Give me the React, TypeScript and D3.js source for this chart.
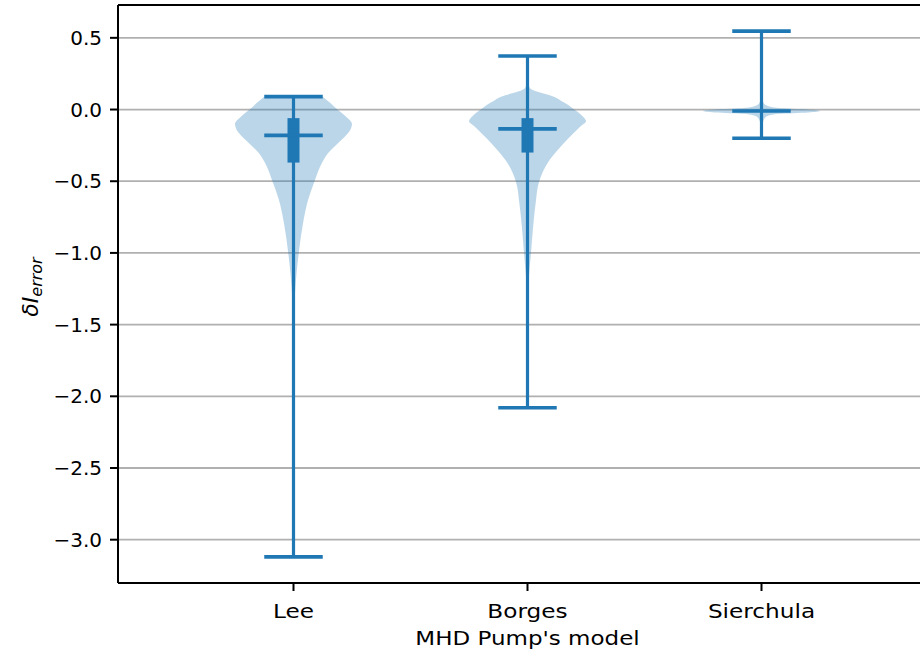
import * as d3 from 'd3';
import React from 'react';

// models on the x axis
const models = ['Lee', 'Borges', 'Sierchula'];

// summary stats
const maxima = [0.09, 0.373, 0.547];
const minima = [-3.12, -2.08, -0.2];
const medians = [-0.18, -0.135, -0.01];
const q1 = [-0.37, -0.3, -0.015];
const q3 = [-0.06, -0.06, -0.005];

// violin outlines: value levels and relative half-width at each level
const leeLevels = [0.09, 0.045, 0.0, -0.05, -0.1, -0.15, -0.2, -0.25, -0.3, -0.37, -0.5, -0.63, -0.8, -1.0, -1.15, -1.33, -1.68, -2.37, -3.12];
const leeDensity = [0.5, 0.63, 0.75, 0.9, 1.0, 0.96, 0.85, 0.72, 0.6, 0.49, 0.36, 0.25, 0.16, 0.09, 0.05, 0.02, 0.008, 0.003, 0.002];

const borgesLevels = [0.373, 0.2, 0.15, 0.12, 0.1, 0.05, 0.0, -0.05, -0.08, -0.12, -0.2, -0.28, -0.35, -0.5, -0.65, -0.8, -1.0, -1.2, -1.5, -2.08];
const borgesDensity = [0, 0.005, 0.04, 0.2, 0.38, 0.62, 0.8, 0.95, 1.0, 0.9, 0.7, 0.52, 0.38, 0.2, 0.14, 0.1, 0.06, 0.02, 0.008, 0];

const sierLevels = [0.547, 0.1, 0.05, 0.03, 0.01, 0.0, -0.01, -0.02, -0.03, -0.05, -0.08, -0.12, -0.2];
const sierDensity = [0, 0.005, 0.03, 0.08, 0.3, 0.8, 1.0, 0.8, 0.3, 0.08, 0.03, 0.01, 0];

const levels = [leeLevels, borgesLevels, sierLevels];
const densities = [leeDensity, borgesDensity, sierDensity];

const yTicks = [0.5, 0.0, -0.5, -1.0, -1.5, -2.0, -2.5, -3.0];

const W = 920;
const H = 654;
const left = 118;
const right = 937; // axes run past the cropped edge
const top = 5;
const bottom = 583;
const blue = '#1f77b4';
const font = 'DejaVu Sans, sans-serif';

const fmt = (v: number) => (v < 0 ? '\u2212' : '') + Math.abs(v).toFixed(1);

const App: React.FC = () => {
  const x = d3.scaleLinear().domain([0.25, 3.75]).range([left, right]);
  const y = d3.scaleLinear().domain([0.729, -3.302]).range([top, bottom]);
  const half = 0.25; // violin half width in data units
  const capHalf = 0.125;

  return (
    <svg width={W} height={H} style={{ position: 'absolute', left: 0, top: 0, background: '#fff' }}>
      <defs>
        <clipPath id="plot">
          <rect x={left} y={top} width={right - left} height={bottom - top} />
        </clipPath>
      </defs>
      {/* grid */}
      <g>
        {yTicks.map((t) => (
          <line key={t} x1={left} x2={right} y1={y(t)} y2={y(t)} stroke="#b0b0b0" strokeWidth={1.8} />
        ))}
      </g>
      <g clipPath="url(#plot)">
        {models.map((m, i) => {
          const cx = i + 1;
          const pts = levels[i].map((v, j) => ({ v, d: densities[i][j] }));
          const area = d3
            .area<{ v: number; d: number }>()
            .y((p) => y(p.v))
            .x0((p) => x(cx - half * p.d))
            .x1((p) => x(cx + half * p.d))
            .curve(d3.curveMonotoneY);
          return (
            <g key={m}>
              <path d={area(pts) ?? ''} fill={blue} fillOpacity={0.3} stroke="none" />
              <line x1={x(cx)} x2={x(cx)} y1={y(maxima[i])} y2={y(minima[i])} stroke={blue} strokeWidth={3.2} />
              <line x1={x(cx)} x2={x(cx)} y1={y(q3[i])} y2={y(q1[i])} stroke={blue} strokeWidth={12} />
              {[maxima[i], minima[i], medians[i]].map((v, k) => (
                <line key={k} x1={x(cx - capHalf)} x2={x(cx + capHalf)} y1={y(v)} y2={y(v)} stroke={blue} strokeWidth={3.6} />
              ))}
            </g>
          );
        })}
      </g>
      {/* spines */}
      <line x1={left} x2={left} y1={top} y2={bottom} stroke="#000" strokeWidth={2} />
      <line x1={left} x2={right} y1={bottom} y2={bottom} stroke="#000" strokeWidth={2} />
      <line x1={left} x2={right} y1={top} y2={top} stroke="#000" strokeWidth={2} />
      <g fontFamily={font} fontSize={20} fill="#000">
        {yTicks.map((t) => (
          <g key={t}>
            <line x1={left - 8} x2={left} y1={y(t)} y2={y(t)} stroke="#000" strokeWidth={2} />
            <text x={left - 16} y={y(t)} textAnchor="end" dominantBaseline="central">
              {fmt(t)}
            </text>
          </g>
        ))}
        {models.map((m, i) => (
          <g key={m}>
            <line x1={x(i + 1)} x2={x(i + 1)} y1={bottom} y2={bottom + 8} stroke="#000" strokeWidth={2} />
            <text transform={`translate(${x(i + 1)}, ${bottom + 35}) scale(1.16, 1)`} textAnchor="middle">
              {m}
            </text>
          </g>
        ))}
        <text transform={`translate(${(left + right) / 2}, ${bottom + 62}) scale(1.15, 1)`} textAnchor="middle">
          MHD Pump's model
        </text>
        <text transform={`translate(38, 287) rotate(-90)`} textAnchor="middle" fontStyle="italic" fontSize={22}>
          δI
          <tspan fontSize={16} dy={4}>error</tspan>
        </text>
      </g>
    </svg>
  );
};

export default App;
